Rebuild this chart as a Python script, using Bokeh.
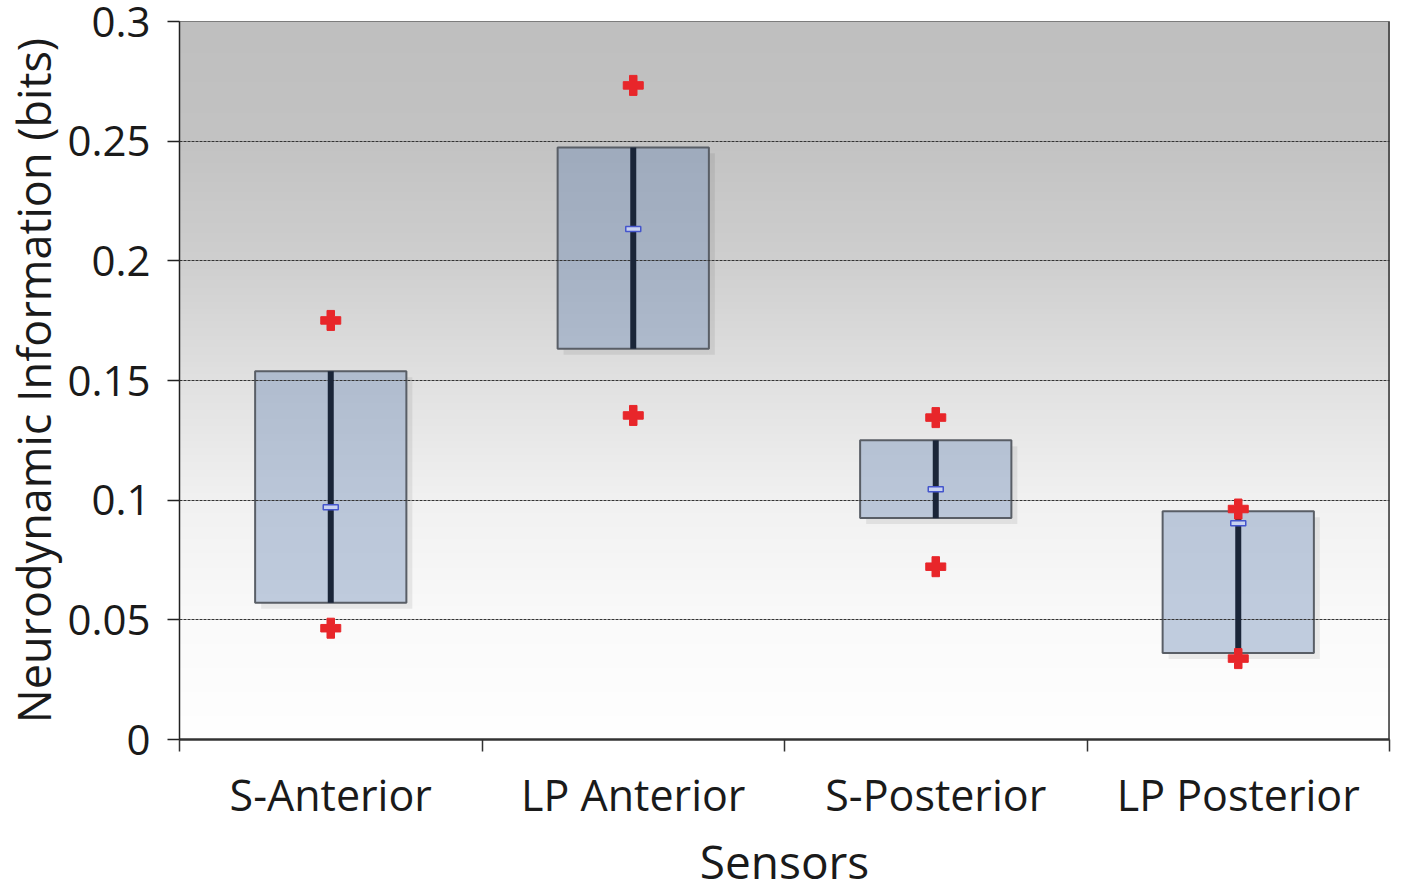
import numpy as np
from bokeh.plotting import figure
from bokeh.models import Range1d, FixedTicker, Span, ColumnDataSource
from bokeh.embed import file_html
from bokeh.resources import INLINE

# ---- data ----
categories = ["S-Anterior", "LP Anterior", "S-Posterior", "LP Posterior"]
box_top = [0.1539, 0.2474, 0.1250, 0.0954]
box_bottom = [0.0571, 0.1633, 0.0925, 0.0361]
means = [0.0970, 0.2133, 0.1046, 0.0904]
upper_marks = [0.1751, 0.2733, 0.1345, 0.0963]
lower_marks = [0.0465, 0.1354, 0.0722, 0.0338]
ytick_values = [0, 0.05, 0.1, 0.15, 0.2, 0.25, 0.3]
ytick_labels = ["0", "0.05", "0.1", "0.15", "0.2", "0.25", "0.3"]
x_title = "Sensors"
y_title = "Neurodynamic Information (bits)"

FONT = "Open Sans"
W, H = 1400, 894
BL, BR, BT, BB = 177, 11, 21, 153
n = len(categories)
centers = [i + 0.5 for i in range(n)]
box_half = 0.25

ymin, ymax = ytick_values[0], ytick_values[-1]
frame_w = W - BL - BR
frame_h = H - BT - BB
px_x = frame_w / n
px_y = frame_h / (ymax - ymin)

src = ColumnDataSource(dict(
    x=centers,
    left=[c - box_half for c in centers],
    right=[c + box_half for c in centers],
    top=box_top, bottom=box_bottom, mean=means,
    up=upper_marks, low=lower_marks,
))

p = figure(width=W, height=H, output_backend="svg", toolbar_location=None,
           x_range=Range1d(0, n), y_range=Range1d(ymin, ymax),
           min_border_left=BL, min_border_right=BR, min_border_top=BT, min_border_bottom=BB)
p.background_fill_color = "white"
p.border_fill_color = "white"
p.outline_line_color = "#666666"
p.outline_line_width = 1

# background gradient (styling only)
rows = 300
yy = np.linspace(0, 1, rows)
stop_y = np.array([0, 1, 2, 3, 4, 5, 6]) / 6.0
stop_g = np.array([255, 250, 241, 225, 207, 195, 191])
g = np.interp(yy, stop_y, stop_g).astype(np.uint8)
img = np.zeros((rows, 1), dtype=np.uint32)
view = img.view(dtype=np.uint8).reshape((rows, 1, 4))
view[:, 0, 0] = g
view[:, 0, 1] = g
view[:, 0, 2] = g
view[:, 0, 3] = 255
p.image_rgba(image=[img], x=0, y=ymin, dw=n, dh=ymax - ymin, level="image")

# soft box shadow (right and bottom strips only)
sx = 6.0 / px_x
sy = 6.0 / px_y
sh_right = dict(left=src.data["right"], right=[r + sx for r in src.data["right"]],
                top=[t - sy for t in box_top], bottom=[b - sy for b in box_bottom])
sh_bottom = dict(left=[l + sx for l in src.data["left"]], right=src.data["right"],
                 top=box_bottom, bottom=[b - sy for b in box_bottom])
for d in (sh_right, sh_bottom):
    p.quad(source=ColumnDataSource(d), left="left", right="right", top="top", bottom="bottom",
           fill_color="black", fill_alpha=0.07, line_color=None)

# boxes
p.quad(left="left", right="right", top="top", bottom="bottom", source=src,
       fill_color="#6987b4", fill_alpha=0.40, line_color="#595e66", line_width=2)

# dark center line
p.segment(x0="x", x1="x", y0="bottom", y1="top", source=src,
          line_color="#1a2538", line_width=6, level="annotation")

# mean marker
p.rect(x="x", y="mean", width=15, height=5, width_units="screen", height_units="screen",
       source=src, fill_color="#c8d2f0", line_color="#4455cc", line_width=1.5, level="annotation")

# red plus markers
for col in ("up", "low"):
    p.scatter(x="x", y=col, source=src, marker="plus", size=20,
              fill_color="#e8262a", line_color="#e8262a", line_width=1, level="overlay")

# grid
p.xgrid.visible = False
p.ygrid.ticker = FixedTicker(ticks=ytick_values)
p.ygrid.grid_line_color = "#333333"
p.ygrid.grid_line_dash = "3 1"
p.ygrid.grid_line_width = 1
p.ygrid.level = "guide"

# right border
p.add_layout(Span(location=n, dimension="height", line_color="#333333", line_width=2.5))

# y axis
p.yaxis.ticker = FixedTicker(ticks=ytick_values)
p.yaxis.major_label_overrides = {v: s for v, s in zip(ytick_values, ytick_labels)}
p.yaxis.axis_label = y_title
p.yaxis.axis_label_text_font = FONT
p.yaxis.axis_label_text_font_size = "45px"
p.yaxis.axis_label_text_font_style = "normal"
p.yaxis.axis_label_text_color = "#1a1a1a"
p.yaxis.axis_label_standoff = 0
p.yaxis.major_label_text_font = FONT
p.yaxis.major_label_text_font_size = "42px"
p.yaxis.major_label_text_color = "#1a1a1a"
p.yaxis.major_label_standoff = 17
p.yaxis.major_tick_out = 12
p.yaxis.major_tick_in = 0
p.yaxis.minor_tick_line_color = None
p.yaxis.axis_line_color = "#222222"
p.yaxis.axis_line_width = 1.5
p.yaxis.major_tick_line_color = "#222222"
p.yaxis.major_tick_line_width = 1.5

# x axis
p.xaxis.ticker = FixedTicker(ticks=centers, minor_ticks=list(range(n + 1)))
p.xaxis.major_label_overrides = {c: s for c, s in zip(centers, categories)}
p.xaxis.axis_label = x_title
p.xaxis.axis_label_text_font = FONT
p.xaxis.axis_label_text_font_size = "46px"
p.xaxis.axis_label_text_font_style = "normal"
p.xaxis.axis_label_text_color = "#1a1a1a"
p.xaxis.axis_label_standoff = 3
p.xaxis.major_label_text_font = FONT
p.xaxis.major_label_text_font_size = "43px"
p.xaxis.major_label_text_color = "#1a1a1a"
p.xaxis.major_label_standoff = 13
p.xaxis.major_tick_line_color = None
p.xaxis.major_tick_out = 12
p.xaxis.minor_tick_out = 12
p.xaxis.minor_tick_in = 0
p.xaxis.minor_tick_line_color = "#333333"
p.xaxis.minor_tick_line_width = 1.5
p.xaxis.axis_line_color = "#333333"
p.xaxis.axis_line_width = 2.5

open("out.html", "w").write(file_html(p, INLINE))
